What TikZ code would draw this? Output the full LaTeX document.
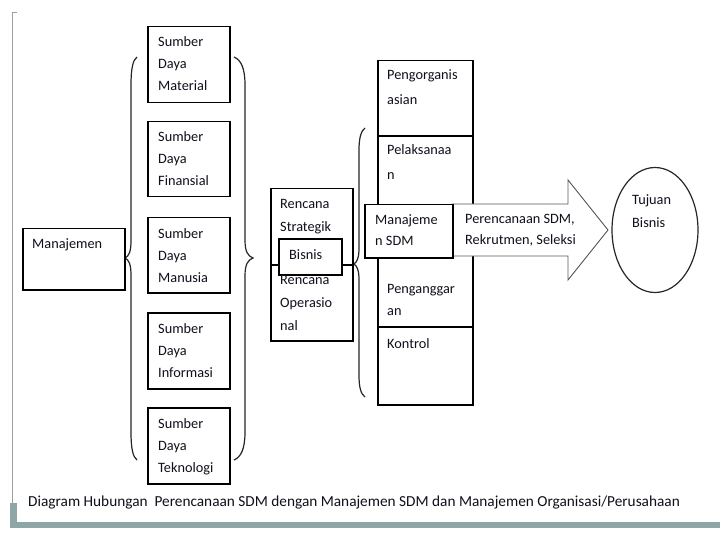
\documentclass[tikz,border=0pt]{standalone}
\usepackage{fontspec}
\setmainfont{Carlito}
\definecolor{framec}{HTML}{8FA6A6}
\definecolor{txtc}{HTML}{10101C}
\usetikzlibrary{shapes.geometric}
\begin{document}
\begin{tikzpicture}[x=1pt,y=-1pt,
  box/.style={draw=black,line width=1.5pt,fill=white,inner sep=0,anchor=north west},
  txt/.style={anchor=base west,inner sep=0,text=txtc,font=\fontsize{14.3}{16}\selectfont},
  brc/.style={draw=black!85,line width=1.2pt},
  arr/.style={draw=black!65,line width=0.9pt,fill=white,line join=miter},
]
\useasboundingbox (0,0) rectangle (720,540);
\fill[white] (0,0) rectangle (720,540);
% frame
\draw[gray!75,line width=1pt] (16.5,12.5) -- (12.5,12.5) -- (12.5,505);
\fill[framec] (10,503) rectangle (16.5,528);
\fill[framec] (10,522) rectangle (720,528);
% braces
\draw[brc] (137,57) .. controls (133,60) and (131,68) .. (131,85) -- (131,240) .. controls (131,252) and (129,256) .. (125,258) .. controls (129,260) and (131,264) .. (131,276) -- (131,432) .. controls (131,449) and (133,457) .. (137,460);
\draw[brc] (234,57) .. controls (241,60) and (245,68) .. (245,85) -- (245,240) .. controls (245,252) and (248,256) .. (253,258) .. controls (248,260) and (245,264) .. (245,276) -- (245,432) .. controls (245,449) and (241,457) .. (234,460);
\draw[brc] (365,128) .. controls (361,131) and (359,138) .. (359,150) -- (359,248) .. controls (359,258) and (357,262) .. (354,264) .. controls (357,266) and (359,270) .. (359,280) -- (359,375) .. controls (359,388) and (361,394) .. (365,397);
% resource boxes
\node[box,minimum width=82pt,minimum height=76pt] (mat) at (147,26) {};
\node[box,minimum width=82pt,minimum height=75pt] (fin) at (147,121) {};
\node[box,minimum width=82pt,minimum height=75pt] (man) at (147,217) {};
\node[box,minimum width=82pt,minimum height=76pt] (inf) at (147,312) {};
\node[box,minimum width=82pt,minimum height=76pt] (tek) at (147,407) {};
\node[box,minimum width=102pt,minimum height=61pt] (mgm) at (22,228) {};
% rencana
\node[box,minimum width=82pt,minimum height=152pt] (ren) at (270,188) {};
\draw[line width=1.5pt] (ren.west) -- (ren.east);
\node[box,minimum width=63pt,minimum height=36pt] (bis) at (278,238) {};
% column
\node[box,minimum width=95pt,minimum height=344pt] (col) at (377,60) {};
\coordinate (d1) at (377,136); \coordinate (d1e) at (472,136);
\coordinate (d2) at (377,327); \coordinate (d2e) at (472,327);
\draw[line width=1.5pt] (d1) -- (d1e);
\draw[line width=1.5pt] (d2) -- (d2e);
% arrow
\draw[arr] (452,204) -- (568,204) -- (568,180) -- (608,230) -- (568,280) -- (568,256) -- (452,256) -- cycle;
\node[box,minimum width=88pt,minimum height=53pt] (msdm) at (364,204) {};
% goal ellipse
\node[draw=black!85,line width=1.2pt,ellipse,minimum width=86pt,minimum height=125pt,inner sep=0] (goal) at (655,230) {};
% texts
\node[txt] (t1a) at (158,47) {Sumber};
\node[txt] (t1b) at (158,69) {Daya};
\node[txt] (t1c) at (158,91) {Material};
\node[txt] (t2a) at (158,142) {Sumber};
\node[txt] (t2b) at (158,164) {Daya};
\node[txt] (t2c) at (158,186) {Finansial};
\node[txt] (t3a) at (158,238) {Sumber};
\node[txt] (t3b) at (158,260) {Daya};
\node[txt] (t3c) at (158,282) {Manusia};
\node[txt] (t4a) at (158,333) {Sumber};
\node[txt] (t4b) at (158,355) {Daya};
\node[txt] (t4c) at (158,377) {Informasi};
\node[txt] (t5a) at (158,428) {Sumber};
\node[txt] (t5b) at (158,450) {Daya};
\node[txt] (t5c) at (158,472) {Teknologi};
\node[txt] (tm) at (32,248) {Manajemen};
\node[txt] (r1) at (280,208) {Rencana};
\node[txt] (r2) at (280,232) {Strategik};
\node[txt] (r3) at (289,259) {Bisnis};
\node[txt] (r4) at (280,284) {Rencana};
\node[txt] (r5) at (280,307) {Operasio};
\node[txt] (r6) at (280,330) {nal};
\node[txt] (c1) at (387,80) {Pengorganis};
\node[txt] (c2) at (387,105) {asian};
\node[txt] (c3) at (387,155) {Pelaksanaa};
\node[txt] (c4) at (387,180) {n};
\node[txt] (s1) at (375,225) {Manajeme};
\node[txt] (s2) at (375,245) {n SDM};
\node[txt] (c5) at (387,293) {Penganggar};
\node[txt] (c6) at (387,315) {an};
\node[txt] (c7) at (387,348) {Kontrol};
\node[txt] (a1) at (465,223) {Perencanaan SDM,};
\node[txt] (a2) at (465,244) {Rekrutmen, Seleksi};
\node[txt] (g1) at (632,205) {Tujuan};
\node[txt] (g2) at (632,228) {Bisnis};
\node[txt,font=\fontsize{15.3}{17}\selectfont] (cap) at (28,506) {Diagram Hubungan\ \ Perencanaan SDM dengan Manajemen SDM dan Manajemen Organisasi/Perusahaan};
\end{tikzpicture}
\end{document}
